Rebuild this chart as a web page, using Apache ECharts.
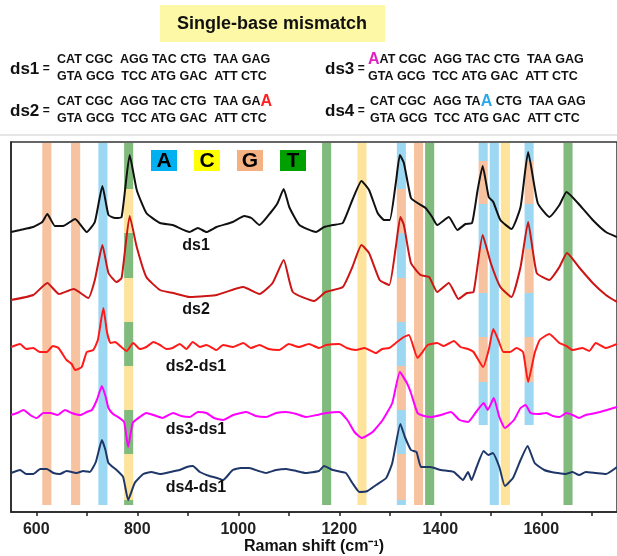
<!DOCTYPE html>
<html><head><meta charset="utf-8">
<script src="https://cdn.jsdelivr.net/npm/echarts@6/dist/echarts.min.js"></script>
<style>html,body{margin:0;padding:0;background:#fff}#c{width:617px;height:556px}</style>
</head><body><div id="c"></div>
<script>
// ---------- DATA ----------
const tickLabels = [600, 800, 1000, 1200, 1400, 1600];
const tickMarks = [600, 700, 800, 900, 1000, 1100, 1200, 1300, 1400, 1500, 1600, 1700];
const seriesNames = ['ds1', 'ds2', 'ds2-ds1', 'ds3-ds1', 'ds4-ds1'];

const ds1 = [[550,280],[568,282],[594,285],[612,290],[622,298],[637,286],[653,286],[677,293],[700,280],[716,290],[731,326],[743,297],[756,294],[769,295],[785,357],[799,322],[818,299],[845,289],[870,287],[904,280],[920,284],[937,280],[957,285],[989,290],[1012,296],[1026,294],[1042,287],[1065,300],[1078,309],[1090,323],[1101,305],[1121,287],[1154,280],[1170,285],[1187,287],[1207,289],[1226,312],[1244,331],[1259,322],[1276,299],[1289,292],[1300,292],[1312,329],[1320,357],[1328,349],[1342,314],[1355,309],[1371,304],[1384,295],[1394,287],[1417,295],[1434,282],[1450,288],[1463,289],[1474,322],[1484,346],[1496,315],[1505,310],[1519,292],[1541,283],[1559,305],[1574,360],[1593,309],[1616,295],[1636,307],[1650,320],[1676,307],[1702,292],[1728,280],[1750,275]];

const ds2 = [[550,212],[594,217],[622,229],[645,218],[674,223],[703,214],[716,232],[731,267],[743,239],[759,230],[769,234],[785,296],[799,265],[818,235],[845,222],[871,219],[904,215],[937,216],[957,217],[1010,225],[1042,218],[1068,229],[1090,252],[1108,220],[1150,211],[1173,220],[1207,225],[1226,245],[1244,267],[1259,259],[1280,232],[1299,227],[1312,265],[1321,295],[1328,287],[1342,249],[1361,237],[1378,235],[1394,220],[1417,229],[1436,213],[1453,219],[1466,220],[1484,277],[1500,249],[1519,225],[1541,215],[1559,245],[1574,290],[1591,239],[1616,232],[1636,245],[1651,259],[1676,244],[1702,229],[1728,217],[1750,210]];

const ds21 = [[550,165],[568,168],[580,163],[594,164],[607,160],[621,160],[633,166],[644,164],[660,152],[670,148],[677,142],[690,145],[700,160],[713,162],[722,172],[733,204],[740,180],[747,169],[756,170],[766,166],[779,161],[792,169],[805,163],[818,165],[832,170],[845,167],[858,163],[870,164],[884,168],[897,163],[910,170],[924,165],[937,167],[957,162],[970,167],[990,165],[1010,169],[1025,164],[1042,167],[1060,163],[1081,162],[1100,168],[1120,165],[1140,168],[1160,164],[1174,167],[1200,168],[1215,164],[1233,162],[1250,164],[1273,159],[1285,163],[1299,164],[1312,169],[1328,175],[1338,177],[1355,154],[1365,160],[1375,167],[1394,169],[1407,166],[1427,171],[1440,165],[1455,163],[1466,160],[1485,145],[1496,162],[1505,183],[1515,172],[1525,160],[1538,160],[1551,164],[1564,160],[1574,130],[1587,159],[1597,172],[1616,178],[1636,169],[1650,166],[1662,162],[1682,164],[1695,161],[1708,169],[1728,164],[1750,168]];

const ds31 = [[550,97],[562,99],[575,102],[588,97],[601,94],[614,99],[628,99],[642,97],[657,102],[670,99],[687,97],[700,100],[710,102],[720,112],[730,126],[737,116],[743,104],[752,98],[762,95],[774,90],[782,65],[791,89],[805,95],[818,99],[832,97],[850,94],[871,99],[887,96],[904,95],[920,100],[937,99],[952,94],[970,92],[990,97],[1016,100],[1035,96],[1055,95],[1075,99],[1095,100],[1115,98],[1134,95],[1155,97],[1174,99],[1200,100],[1216,92],[1230,80],[1245,74],[1266,80],[1286,92],[1305,109],[1320,140],[1334,129],[1342,119],[1355,99],[1368,96],[1382,95],[1401,97],[1421,100],[1438,92],[1455,90],[1471,100],[1486,109],[1494,102],[1506,114],[1517,95],[1528,84],[1546,92],[1559,104],[1569,107],[1579,99],[1595,98],[1610,99],[1623,96],[1636,95],[1650,99],[1662,97],[1675,94],[1688,97],[1708,99],[1730,102],[1750,105]];

const ds41 = [[550,39],[568,42],[580,38],[594,38],[608,43],[621,43],[634,39],[647,38],[660,41],[680,39],[693,41],[706,40],[718,50],[730,72],[737,62],[743,49],[759,42],[772,35],[782,12],[795,29],[812,38],[828,40],[845,38],[865,40],[884,42],[898,45],[910,46],[924,40],[943,36],[958,34],[970,32],[989,42],[1005,44],[1022,44],[1040,41],[1055,39],[1075,42],[1095,43],[1115,41],[1134,39],[1160,41],[1170,46],[1187,42],[1213,39],[1226,29],[1240,20],[1256,21],[1273,27],[1293,34],[1305,49],[1321,88],[1330,75],[1342,62],[1353,60],[1362,45],[1380,45],[1401,42],[1427,40],[1445,32],[1455,40],[1462,32],[1472,45],[1486,61],[1495,57],[1504,59],[1517,45],[1528,26],[1544,34],[1559,52],[1573,66],[1587,49],[1606,42],[1620,40],[1632,39],[1648,38],[1662,40],[1675,37],[1688,40],[1708,39],[1728,38],[1750,45]];

// band centres (cm-1) by base assignment
const bandsG = [621, 678, 1357];
const bandsA = [732, 1507];
const bandsC = [1245, 1529];
const bandsT = [1175, 1379, 1653];
const bandsTC = [783];          // alternating T / C
const bandsAG = [1323];         // alternating A / G (full height)
const bandsAGshort = [1485, 1576]; // alternating A / G (upper part)
const segFull = [369, 323, 279, 234, 190, 146, 102, 58, 12, 7];
const segShort = [369, 351, 308, 263, 219, 175, 130, 87];

const seqNames = ['ds1', 'ds2', 'ds3', 'ds4'];
const seqTop = ['CAT CGC  AGG TAC CTG  TAA GAG', 'CAT CGC  AGG TAC CTG  TAA GA{r|A}', '{m|A}AT CGC  AGG TAC CTG  TAA GAG', 'CAT CGC  AGG TA{b|A} CTG  TAA GAG'];
const seqBottom = ['GTA GCG  TCC ATG GAC  ATT CTC', 'GTA GCG  TCC ATG GAC  ATT CTC', 'GTA GCG  TCC ATG GAC  ATT CTC', 'GTA GCG  TCC ATG GAC  ATT CTC'];
const legendBases = ['A', 'C', 'G', 'T'];

// ---------- STYLE ----------
const FONT = '"Liberation Sans", Arial, sans-serif';
const C = { A: '#9dd8f3', C: '#fde39b', G: '#f7c29f', T: '#80bb7d' };
const LEG = { A: '#00b0f0', C: '#ffff00', G: '#f4b183', T: '#00a000' };
const HW = 9;
const lineColors = ['#111111', '#cc1515', '#ff1a1a', '#ff00ff', '#1f3768'];

const areas = [];
function full(xs, col) { xs.forEach(x => areas.push([{ xAxis: x - HW, yAxis: segFull[segFull.length - 1], itemStyle: { color: col } }, { xAxis: x + HW, yAxis: segFull[0] }])); }
function alt(xs, seg, c1, c2) {
  xs.forEach(x => { for (let i = 0; i < seg.length - 1; i++) areas.push([{ xAxis: x - HW, yAxis: seg[i + 1], itemStyle: { color: i % 2 ? c2 : c1 } }, { xAxis: x + HW, yAxis: seg[i] }]); });
}
full(bandsG, C.G); full(bandsA, C.A); full(bandsC, C.C); full(bandsT, C.T);
alt(bandsTC, segFull, C.T, C.C);
alt(bandsAG, segFull, C.A, C.G);
alt(bandsAGshort, segShort, C.A, C.G);

const chart = echarts.init(document.getElementById('c'), null, { renderer: 'canvas' });

const graphics = [];
graphics.push({ type: 'rect', shape: { x: 160, y: 5, width: 225, height: 37 }, style: { fill: '#fcf8a6' } });
graphics.push({ type: 'text', x: 272, y: 24, style: { text: 'Single-base mismatch', font: 'bold 18px ' + FONT, fill: '#111', align: 'center', verticalAlign: 'middle' } });
graphics.push({ type: 'line', shape: { x1: 0, y1: 135, x2: 617, y2: 135 }, style: { stroke: '#dedede', lineWidth: 1.5 } });
const seqPos = [[10, 57, 68], [10, 57, 110], [325, 368, 68], [325, 370, 110]];
const rich = {
  r: { fill: '#ff2020', font: 'bold 16px ' + FONT },
  m: { fill: '#e020c0', font: 'bold 16px ' + FONT },
  b: { fill: '#2aa8ec', font: 'bold 16px ' + FONT }
};
seqNames.forEach((n, i) => {
  const p = seqPos[i];
  graphics.push({ type: 'text', x: p[0], y: p[2] + 1, style: { text: '{l|' + n + '}{e| =}', rich: { l: { font: 'bold 17px ' + FONT, fill: '#111' }, e: { font: 'bold 12px ' + FONT, fill: '#111' } }, verticalAlign: 'middle' } });
  graphics.push({ type: 'text', x: p[1], y: p[2] - 8, style: { text: seqTop[i], font: 'bold 12.5px ' + FONT, fill: '#111', rich: rich, verticalAlign: 'middle' } });
  graphics.push({ type: 'text', x: p[1], y: p[2] + 9, style: { text: seqBottom[i], font: 'bold 12.5px ' + FONT, fill: '#111', verticalAlign: 'middle' } });
});
const legX = [151, 194, 237, 280];
legendBases.forEach((b, i) => {
  graphics.push({ type: 'rect', z: 10, shape: { x: legX[i], y: 150, width: 26, height: 21 }, style: { fill: LEG[b] } });
  graphics.push({ type: 'text', z: 11, x: legX[i] + 13, y: 161, style: { text: b, font: 'bold 21px ' + FONT, fill: '#000', align: 'center', verticalAlign: 'middle' } });
});
const labPos = [246, 310, 367, 430, 488];
seriesNames.forEach((n, i) => {
  graphics.push({ type: 'text', z: 12, x: 196, y: labPos[i], style: { text: n, font: 'bold 16px ' + FONT, fill: '#111', align: 'center', verticalAlign: 'middle' } });
});
graphics.push({ type: 'text', x: 314, y: 547, style: { text: 'Raman shift (cm⁻¹)', font: 'bold 16px ' + FONT, fill: '#111', align: 'center', verticalAlign: 'middle' } });

const lineData = [ds1, ds2, ds21, ds31, ds41];
const series = [{ type: 'line', data: [], z: 1, silent: true, markArea: { silent: true, label: { show: false }, data: areas } }];
lineData.forEach((d, i) => series.push({ name: seriesNames[i], type: 'line', data: d, showSymbol: false, smooth: 0.15, z: 5, lineStyle: { color: lineColors[i], width: 2 } }));

chart.setOption({
  animation: false,
  grid: { left: 11, top: 142, width: 608, height: 370, show: true, borderColor: '#333', borderWidth: 1.5 },
  xAxis: {
    type: 'value', min: 550, max: 1750,
    axisLine: { show: true, lineStyle: { color: '#222', width: 1.5 } },
    axisTick: { show: true, inside: false, length: 4, lineStyle: { color: '#222', width: 1.5 }, customValues: tickMarks },
    axisLabel: { customValues: tickLabels, formatter: v => String(v), color: '#222', fontFamily: FONT, fontWeight: 'bold', fontSize: 16, margin: 10 },
    splitLine: { show: false }
  },
  yAxis: { type: 'value', min: 0, max: 370, axisLine: { show: true, lineStyle: { color: '#222', width: 1.5 } }, axisTick: { show: false }, axisLabel: { show: false }, splitLine: { show: false } },
  series: series,
  graphic: graphics
});
</script></body></html>
